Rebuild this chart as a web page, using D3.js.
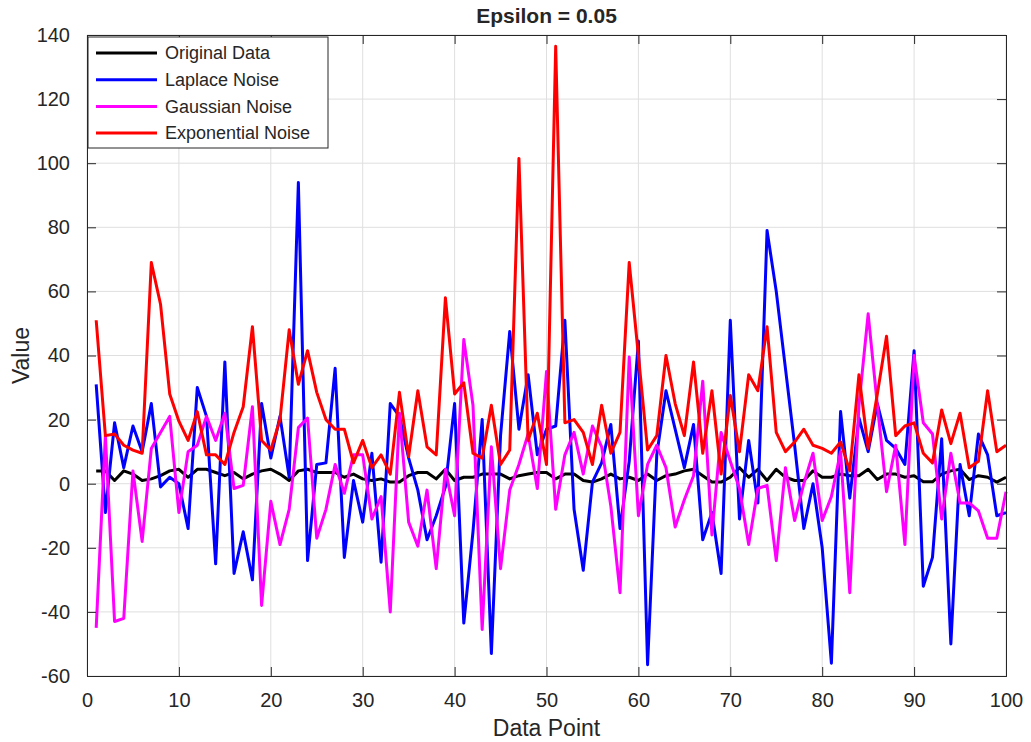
<!DOCTYPE html>
<html>
<head>
<meta charset="utf-8">
<script src="https://cdn.jsdelivr.net/npm/d3@7"></script>
<style>
  body { margin: 0; background: #fff; }
  text { font-family: "Liberation Sans", Arial, sans-serif; fill: #262626; }
</style>
</head>
<body>
<div id="chart"></div>
<script>
var width = 1031;
var height = 742;

// data, index 1..100
var original = [4,4,1,4,3,1,1.5,2.5,4,4.5, 2,4.5,4.5,3.5,2.5,3.5,1.5,3,4,4.5,
    3,1,4,4.5,3.5,3.5,3.5,2,3,1.5, 1,1.5,0.5,0.5,2.5,3.5,3.5,1.5,4.5,1,
    2,2,3,3,3,1.5,2.5,3,3.5,3.5, 1.5,3,3,1,0.5,1.5,3,1.5,2,1,
    3,1,2.5,3,4,4.5,2.5,0.5,0.5,2, 5,2,4.5,1,4.5,2,1,1,4,2,
    2,3,2.5,2.5,4.5,1.3,3,3,2,2.5, 0.6,0.6,3,4,4.5,1.3,2.5,2,0.5,2];

var laplace = [31,-9,19,5,18,10,25,-1,2,0, -14,30,21,-25,38,-28,-15,-30,25,8,
    21,2,94,-24,6,6.5,36,-23,1,-12, 9.5,-24.5,25,21,8,-2,-17.5,-10,-1,25,
    -43.5,-15,20,-53,15,47.5,17,34,9,17, 18,51,-8,-27,0.5,6.5,18.5,-14,7,44.5,
    -56.5,9,29,17,5,18.5,-17.5,-9,-28,51, -11,13.5,-6,79,60,36,12,-14,0,-20,
    -56,22.5,-4.5,20.5,10,25,13.5,11,6,41.5, -32,-23,14,-50,6,-10,15.5,9,-10,-9];

var gaussian = [-45,15,-43,-42,4,-18,11,16,21,-9, 10,12,21,13.5,22,-1.5,-0.5,24,-38,-5.5,
    -19,-8,17.5,20.5,-17,-8,6,-3,9,9, -11,-4,-40,22,-12,-19.5,-2,-26.5,4.5,-10,
    45,24.5,-45.5,11.5,-26.5,-2,6,15.5,-1.5,35, -8,9,16,3,18,11.5,-7,-34,39.5,-10,
    6,12,5,-13.5,-5,2.5,32,-16,16,7, -1.5,-19,-1.5,-0.5,-24,5,-11.5,0,9.5,-11.5,
    -4,10,-34,24.5,53,24.5,-2.5,12,-19,40, 19,15.5,-11,9.5,-6,-6,-8.5,-17,-17,-2.5];

var exponential = [51,15,15.5,12,10.5,9.5,69,56,28,19.5, 13.5,22.5,9,9,6,16,24,49,13.5,10.5,
    20,48,31,41.5,28.5,20,17,17,6.5,13.5, 5,9,3,28.5,8.5,29,11.5,9,58,28,
    31.5,9.5,8,24.5,6,10.5,101.5,13.5,22,6, 136.5,19,20,16,6,24.5,9.5,16,69,40,
    10.5,15,40,25,15,38,9.5,29,3,27.5, 10,34,29,49,16,10,13,17,12,11,
    9.5,13,4,34,11,28,46,15,18,19, 9.5,6.5,23,12.5,22,5,7,29,10,12];

var seriesNames = ["Original Data", "Laplace Noise", "Gaussian Noise", "Exponential Noise"];
var seriesColors = ["#000000", "#0000ff", "#ff00ff", "#ff0000"];
var xTicks = d3.range(0, 101, 10);
var yTicks = d3.range(-60, 141, 20);

var svg = d3.select("#chart").append("svg")
    .attr("width", width)
    .attr("height", height);

var x = d3.scaleLinear().domain([0, 100]).range([87, 1006]);
var y = d3.scaleLinear().domain([-60, 140]).range([676, 35]);

// grid
svg.append("g").selectAll("line")
    .data(xTicks)
    .enter().append("line")
    .attr("x1", x).attr("x2", x)
    .attr("y1", y(-60)).attr("y2", y(140))
    .attr("stroke", "#dfdfdf");
svg.append("g").selectAll("line")
    .data(yTicks)
    .enter().append("line")
    .attr("y1", y).attr("y2", y)
    .attr("x1", x(0)).attr("x2", x(100))
    .attr("stroke", "#dfdfdf");

var line = d3.line()
    .x(function (d, i) { return x(i + 1); })
    .y(function (d) { return y(d); });

var allSeries = [original, laplace, gaussian, exponential];
svg.append("g").selectAll("path")
    .data(allSeries)
    .enter().append("path")
    .attr("fill", "none")
    .attr("stroke", function (d, i) { return seriesColors[i]; })
    .attr("stroke-width", 3)
    .attr("stroke-linejoin", "round")
    .attr("d", line);

// axes, ticks pointing inward like matlab, plain hyphen for minus
var plain = function (d) { return String(d); };
var xAxis = d3.axisBottom(x).tickValues(xTicks).tickSize(-9).tickPadding(17).tickFormat(plain);
var yAxis = d3.axisLeft(y).tickValues(yTicks).tickSize(-9).tickPadding(17).tickFormat(plain);

svg.append("g").attr("transform", "translate(0," + y(-60) + ")").call(xAxis);
svg.append("g").attr("transform", "translate(" + x(0) + ",0)").call(yAxis);
svg.append("g").attr("transform", "translate(0," + y(140) + ")")
    .call(d3.axisTop(x).tickValues(xTicks).tickSize(-9).tickFormat(""));
svg.append("g").attr("transform", "translate(" + x(100) + ",0)")
    .call(d3.axisRight(y).tickValues(yTicks).tickSize(-9).tickFormat(""));

svg.selectAll(".domain, .tick line").attr("stroke", "#262626");
svg.selectAll(".tick text")
    .attr("font-size", 20)
    .attr("font-family", "Liberation Sans, Arial, sans-serif")
    .attr("fill", "#262626");

// titles
svg.append("text")
    .attr("x", (x(0) + x(100)) / 2)
    .attr("y", 23)
    .attr("text-anchor", "middle")
    .attr("font-size", 21)
    .attr("font-weight", "bold")
    .attr("fill", "#000")
    .text("Epsilon = 0.05");

svg.append("text")
    .attr("x", (x(0) + x(100)) / 2)
    .attr("y", 736)
    .attr("text-anchor", "middle")
    .attr("font-size", 23)
    .text("Data Point");

svg.append("text")
    .attr("transform", "translate(29," + (y(40)) + ") rotate(-90)")
    .attr("text-anchor", "middle")
    .attr("font-size", 23)
    .text("Value");

// legend
var legend = svg.append("g").attr("transform", "translate(88,37)");
legend.append("rect")
    .attr("width", 240)
    .attr("height", 111)
    .attr("fill", "#fff")
    .attr("stroke", "#262626");

var item = legend.selectAll(".item")
    .data(seriesNames)
    .enter().append("g")
    .attr("class", "item")
    .attr("transform", function (d, i) { return "translate(0," + (16 + i * 26.7) + ")"; });
item.append("line")
    .attr("x1", 8).attr("x2", 69)
    .attr("stroke", function (d, i) { return seriesColors[i]; })
    .attr("stroke-width", 3);
item.append("text")
    .attr("x", 77)
    .attr("dy", "0.35em")
    .attr("font-size", 18)
    .attr("fill", "#000")
    .text(function (d) { return d; });
</script>
</body>
</html>
